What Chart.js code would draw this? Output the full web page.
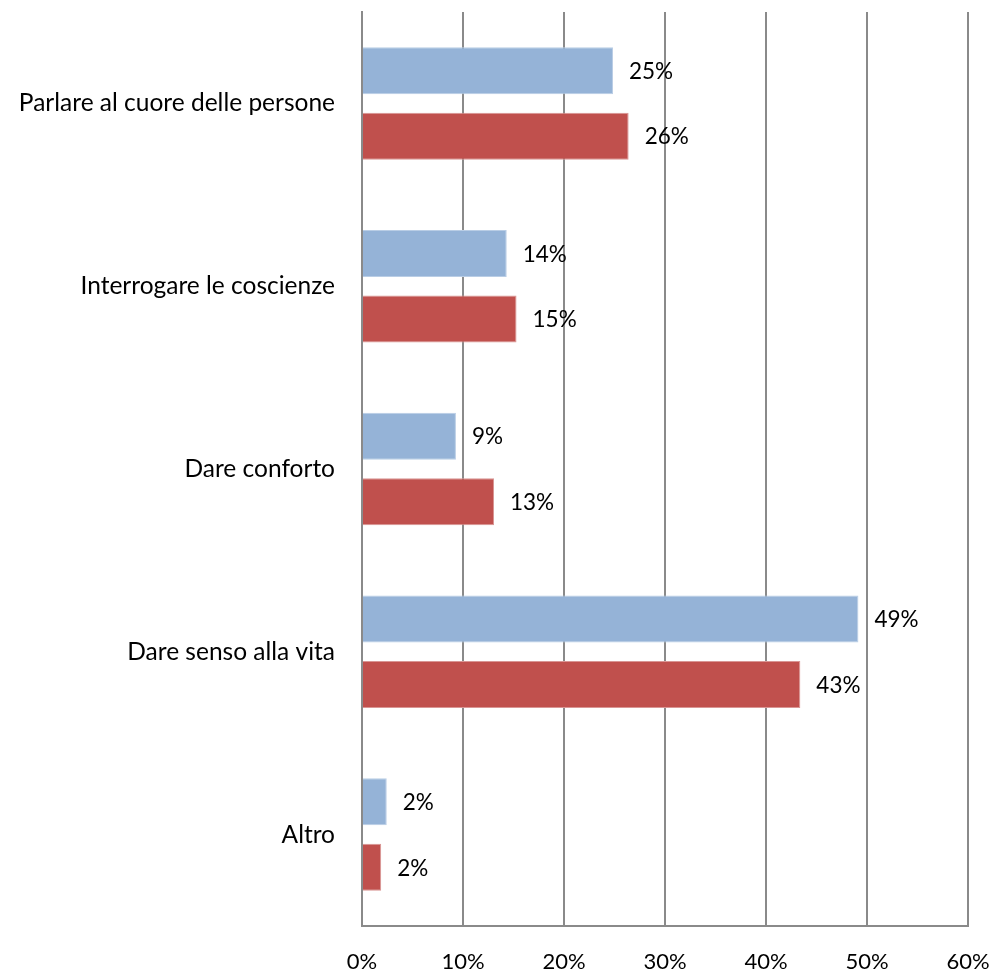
<!DOCTYPE html>
<html>
<head>
<meta charset="utf-8">
<script src="https://cdn.jsdelivr.net/npm/chart.js@4.4.0/dist/chart.umd.min.js"></script>
<style>
  html, body { margin: 0; padding: 0; background: #ffffff; }
  #wrap { width: 994px; height: 973px; position: relative; }
</style>
</head>
<body>
<div id="wrap"><canvas id="c"></canvas></div>
<script>
const categories = [
  "Parlare al cuore delle persone",
  "Interrogare le coscienze",
  "Dare conforto",
  "Dare senso alla vita",
  "Altro"
];
const seriesBlue = [24.85, 14.33, 9.3, 49.15, 2.45];
const seriesRed  = [26.4, 15.3, 13.07, 43.4, 1.9];
const xTicks = [0, 10, 20, 30, 40, 50, 60];

const FONT = "Lato, 'Open Sans', sans-serif";

const valueLabels = {
  id: 'valueLabels',
  afterDatasetsDraw(chart) {
    const ctx = chart.ctx;
    ctx.save();
    ctx.font = "22.5px " + FONT;
    ctx.fillStyle = "#000000";
    ctx.textAlign = "left";
    ctx.textBaseline = "middle";
    chart.data.datasets.forEach((ds, i) => {
      const meta = chart.getDatasetMeta(i);
      meta.data.forEach((bar, j) => {
        ctx.fillText(Math.round(ds.data[j]) + "%", bar.x + 16, bar.y + 1);
      });
    });
    ctx.restore();
  }
};

function noPad(scale) {
  scale.paddingTop = 0; scale.paddingBottom = 0;
  scale.paddingLeft = 0; scale.paddingRight = 0;
}

new Chart(document.getElementById('c'), {
  type: 'bar',
  data: {
    labels: categories,
    datasets: [
      { data: seriesBlue, backgroundColor: '#95B3D7', borderColor: '#B9CDE5', borderWidth: 1, borderSkipped: 'left',
        categoryPercentage: 0.717, barPercentage: 0.717 },
      { data: seriesRed, backgroundColor: '#C0504D', borderColor: '#D99694', borderWidth: 1, borderSkipped: 'left',
        categoryPercentage: 0.717, barPercentage: 0.717 }
    ]
  },
  options: {
    indexAxis: 'y',
    responsive: true,
    maintainAspectRatio: false,
    animation: false,
    devicePixelRatio: 1,
    layout: { padding: { top: 12, right: 26, left: 0, bottom: 0 } },
    plugins: { legend: { display: false }, tooltip: { enabled: false } },
    scales: {
      x: {
        min: 0, max: 60,
        afterBuildTicks(scale) { scale.ticks = xTicks.map(v => ({ value: v })); },
        afterFit(scale) { scale.height = 47; noPad(scale); },
        grid: { color: '#8a8a8a', lineWidth: 2, drawTicks: false },
        border: { display: true, color: '#8a8a8a', width: 2 },
        ticks: { padding: 23, color: '#000000', font: { family: FONT, size: 22 },
                 callback: v => v + '%' }
      },
      y: {
        afterFit(scale) { scale.width = 362; noPad(scale); },
        grid: { display: false, drawTicks: false },
        border: { display: true, color: '#8a8a8a', width: 2 },
        ticks: { padding: 27, color: '#000000', font: { family: FONT, size: 24.5 } }
      }
    }
  },
  plugins: [valueLabels]
});
</script>
</body>
</html>
